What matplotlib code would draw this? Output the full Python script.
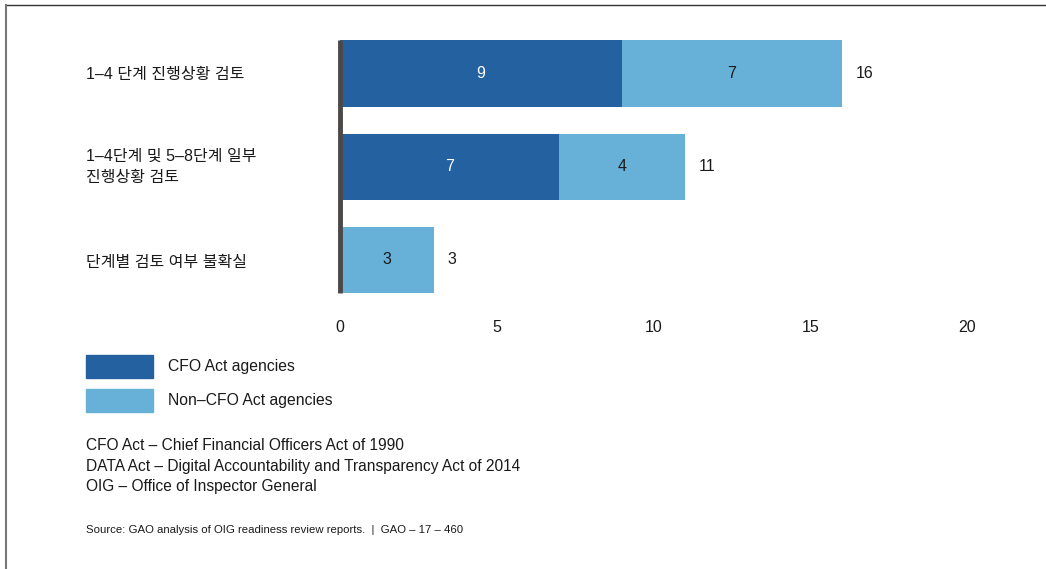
import matplotlib
matplotlib.use("Agg")
import matplotlib.pyplot as plt
from matplotlib.lines import Line2D
from matplotlib.patches import Rectangle
import numpy as np

plt.rcParams['font.family'] = ['Liberation Sans', 'Noto Sans CJK KR', 'DejaVu Sans']

categories = ["1–4 단계 진행상황 검토",
              "1–4단계 및 5–8단계 일부\n진행상황 검토",
              "단계별 검토 여부 불확실"]
cfo = [9, 7, 0]
non_cfo = [7, 4, 3]
xticks = [0, 5, 10, 15, 20]

series_names = ["CFO Act agencies", "Non–CFO Act agencies"]
notes = ["CFO Act – Chief Financial Officers Act of 1990",
         "DATA Act – Digital Accountability and Transparency Act of 2014",
         "OIG – Office of Inspector General"]
source = "Source: GAO analysis of OIG readiness review reports.  |  GAO – 17 – 460"

DARK = "#2461a0"
LIGHT = "#67b1d8"
TEXT = "#1a1a1a"

W, H = 1046, 569
fig = plt.figure(figsize=(W / 100, H / 100), dpi=100)


def fx(px):
    return px / W


def fy(py):
    return 1 - py / H


ax = fig.add_axes([fx(340), fy(306.6), fx(967) - fx(340), fy(26.9) - fy(306.6)])
y = np.arange(len(categories))
bar_h = 0.71
ax.barh(y, cfo, height=bar_h, color=DARK)
ax.barh(y, non_cfo, left=cfo, height=bar_h, color=LIGHT)

for i in range(len(categories)):
    if cfo[i]:
        ax.text(cfo[i] / 2, y[i], str(cfo[i]), ha="center", va="center",
                color="white", fontsize=11.5)
    if non_cfo[i]:
        ax.text(cfo[i] + non_cfo[i] / 2, y[i], str(non_cfo[i]), ha="center",
                va="center", color=TEXT, fontsize=11.5)
    total = cfo[i] + non_cfo[i]
    ax.annotate(str(total), (total, y[i]), xytext=(10, 0), textcoords="offset points",
                ha="left", va="center", color=TEXT, fontsize=11.5)

# baseline at zero spanning the bars only
ax.vlines(0, -bar_h / 2, len(categories) - 1 + bar_h / 2, color="#4d4848",
          linewidth=3.5, clip_on=False, zorder=3)

ax.set_xlim(0, 20)
ax.set_ylim(len(categories) - 0.5, -0.5)
ax.set_xticks(xticks)
ax.set_xticklabels([str(t) for t in xticks], fontsize=11.5, color=TEXT)
ax.set_yticks([])
ax.tick_params(axis="x", length=0, pad=10)
for s in ax.spines.values():
    s.set_visible(False)

# category labels on the left
for i, c in enumerate(categories):
    fig.text(fx(86), fy([75, 167, 262][i]), c, ha="left", va="center",
             fontsize=11.5, color=TEXT, linespacing=1.5)

# legend
for j, (name, col) in enumerate(zip(series_names, [DARK, LIGHT])):
    top = 355 + j * 34
    fig.patches.append(Rectangle((fx(86), fy(top + 23)), fx(153) - fx(86), fy(top) - fy(top + 23),
                                 transform=fig.transFigure, color=col))
    fig.text(fx(168), fy(top + 12), name, ha="left", va="center", fontsize=11.3, color=TEXT)

for k, n in enumerate(notes):
    fig.text(fx(86), fy(445 + k * 21), n, ha="left", va="center", fontsize=11.2, color=TEXT)

fig.text(fx(86), fy(530), source, ha="left", va="center", fontsize=8.2, color=TEXT)

# outer frame: top and left edges
fig.add_artist(Line2D([fx(6), 1], [fy(5), fy(5)], transform=fig.transFigure,
                      color="#333333", linewidth=1))
fig.add_artist(Line2D([fx(6), fx(6)], [fy(5), 0], transform=fig.transFigure,
                      color="#777777", linewidth=1.5))

fig.savefig("out.png", dpi=100)
